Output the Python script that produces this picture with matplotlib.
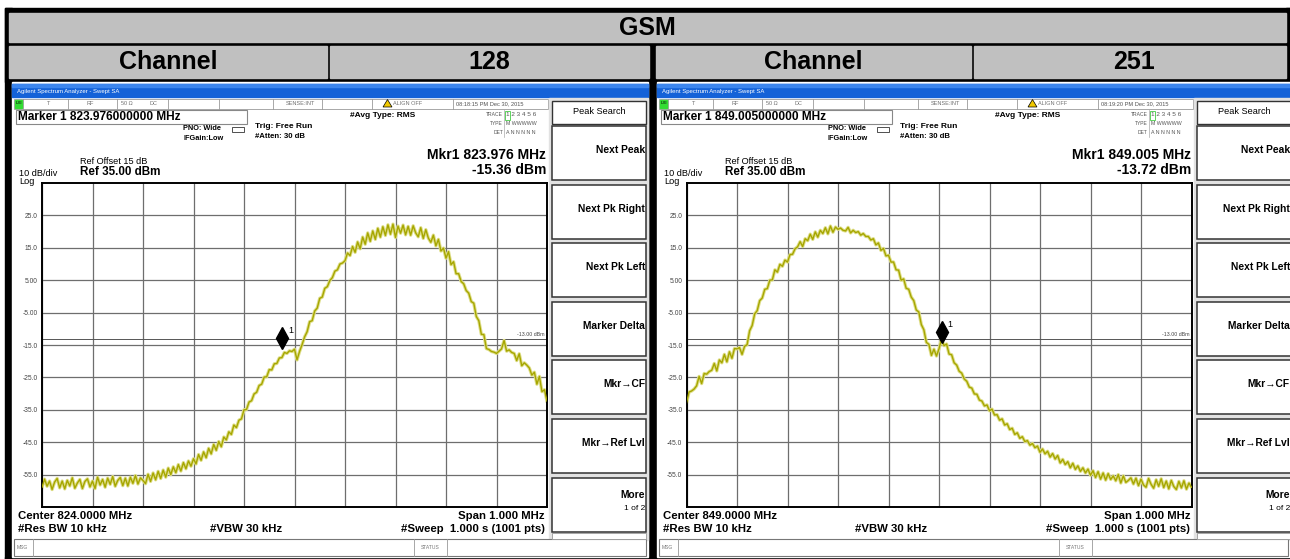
import numpy as np
import matplotlib.pyplot as plt
from matplotlib.patches import Rectangle, Polygon
from matplotlib import font_manager

plt.rcParams['font.family'] = ['Liberation Sans', 'DejaVu Sans']

W, H = 1290, 559

titulo = 'GSM'
canales = ['128', '251']
centros = [824.0, 849.0]          # MHz
span = 1.0                        # MHz
linea_display = -13.0             # dBm
marcador_freq = [823.976, 849.005]
marcador_nivel = [-15.36, -13.72]
horas = ['08:18:15 PM', '08:19:20 PM']
yticks = [25, 15, 5, -5, -15, -25, -35, -45, -55]
ytick_labels = ['25.0', '15.0', '5.00', '-5.00', '-15.0', '-25.0', '-35.0', '-45.0', '-55.0']
teclas = ['Next Peak', 'Next Pk Right', 'Next Pk Left', 'Marker Delta',
          'Mkr\u2192CF', 'Mkr\u2192Ref Lvl']

# traza canal 128, 201 puntos (cada 5 kHz)
traza_128 = [
    -58.9, -56.4, -58.6, -57.0, -59.6, -57.3, -56.2, -59.1, -57.0, -59.4,
    -56.8, -58.5, -56.0, -59.2, -57.6, -56.5, -59.3, -57.1, -56.3, -58.8,
    -57.0, -59.3, -55.8, -58.2, -56.5, -58.9, -56.1, -58.0, -55.6, -58.6,
    -56.8, -55.9, -58.4, -56.1, -58.5, -55.8, -57.7, -55.3, -57.9, -56.0,
    -56.8, -57.8, -54.9, -57.1, -54.5, -56.6, -54.0, -56.2, -53.6, -55.8,
    -53.0, -55.0, -52.6, -54.4, -51.9, -53.9, -51.3, -53.2, -50.8, -52.4,
    -50.1, -51.7, -48.8, -50.6, -48.0, -49.8, -46.9, -48.6, -45.7, -47.5,
    -44.8, -46.4, -43.4, -44.3, -41.8, -42.6, -39.7, -40.5, -38.2, -37.8,
    -35.0, -34.9, -32.6, -32.2, -30.1, -29.6, -27.5, -27.1, -24.9, -24.8,
    -22.6, -22.7, -20.8, -20.7, -19.0, -18.9, -17.3, -17.6, -16.8, -17.0,
    -16.3, -19.6, -17.0, -14.9, -12.5, -10.9, -7.8, -7.5, -4.5, -3.6,
    -0.6, -0.2, 2.5, 3.0, 4.9, 5.8, 7.8, 8.2, 10.0, 10.3,
    11.0, 13.4, 12.6, 15.4, 13.6, 16.8, 14.7, 18.3, 16.1, 19.6,
    17.0, 20.2, 17.6, 21.0, 18.3, 21.5, 18.8, 22.1, 19.2, 22.3,
    18.2, 21.7, 19.5, 22.0, 19.0, 21.6, 18.9, 21.8, 19.6, 18.4,
    21.2, 17.9, 20.6, 18.0, 16.7, 18.9, 15.6, 17.6, 14.0, 14.9,
    11.8, 13.8, 9.8, 10.7, 7.0, 7.0, 4.6, 3.9, 1.8, 1.0,
    -1.6, -2.1, -6.2, -7.5, -11.7, -11.8, -16.1, -16.4, -17.0, -17.2,
    -17.6, -16.9, -16.2, -13.6, -16.9, -16.5, -17.3, -17.6, -19.8, -17.7,
    -21.4, -20.5, -21.2, -22.1, -24.3, -23.4, -27.1, -24.7, -29.4, -28.8,
    -32.3]

# traza canal 251
traza_251 = [
    -32.9, -29.5, -29.2, -28.6, -27.6, -24.7, -26.9, -23.8, -24.0, -23.2,
    -22.8, -20.7, -23.0, -19.6, -20.5, -17.9, -20.2, -17.1, -19.1, -16.1,
    -16.2, -15.8, -17.9, -15.4, -14.9, -10.6, -9.0, -5.4, -4.4, -1.3,
    -0.5, 2.2, 2.4, 5.0, 5.1, 8.2, 7.5, 9.9, 9.3, 11.2,
    10.6, 12.9, 13.0, 14.7, 15.3, 16.9, 15.4, 17.8, 17.2, 19.2,
    17.6, 19.9, 18.3, 20.4, 19.4, 21.2, 19.3, 21.7, 19.8, 21.4,
    20.7, 21.1, 20.4, 20.2, 21.3, 19.6, 20.4, 19.7, 20.0, 18.9,
    19.4, 18.5, 18.5, 17.4, 17.8, 15.9, 16.5, 14.2, 14.8, 12.5,
    12.7, 10.6, 10.6, 8.2, 8.1, 5.0, 5.4, 2.5, 2.2, -0.2,
    -1.3, -4.2, -4.8, -8.7, -10.3, -14.2, -14.8, -18.2, -16.3, -18.4,
    -16.2, -13.1, -15.2, -14.7, -17.8, -18.0, -20.5, -21.2, -23.1, -23.7,
    -25.5, -26.2, -28.0, -28.3, -30.1, -30.2, -32.0, -32.3, -33.8, -33.5,
    -35.3, -34.8, -36.6, -36.5, -38.2, -37.8, -39.7, -39.3, -41.1, -40.7,
    -42.6, -42.1, -43.8, -43.3, -44.8, -44.5, -45.9, -45.4, -46.7, -46.2,
    -48.1, -47.1, -48.6, -47.8, -49.6, -48.5, -50.2, -49.1, -51.4, -50.3,
    -51.9, -51.0, -52.9, -51.5, -53.4, -52.3, -54.0, -52.9, -54.5, -53.3,
    -55.2, -53.8, -55.9, -54.1, -56.4, -54.5, -56.7, -54.7, -56.5, -55.4,
    -56.9, -55.0, -57.6, -55.4, -57.4, -56.8, -56.0, -57.9, -56.1, -58.4,
    -56.4, -58.2, -58.9, -56.2, -58.0, -59.2, -56.6, -58.6, -56.3, -59.0,
    -57.0, -59.4, -56.8, -58.7, -59.6, -57.1, -59.1, -56.9, -59.5, -57.6,
    -58.9]

trazas = [traza_128, traza_251]

# fuente condensada para la tabla si existe
nombres = {f.name for f in font_manager.fontManager.ttflist}
if 'Liberation Sans Narrow' in nombres:
    fuente_tabla = dict(family=['Liberation Sans Narrow', 'DejaVu Sans'], fontsize=21.5)
else:
    fuente_tabla = dict(family=['Liberation Sans', 'DejaVu Sans'], fontsize=18)


def caja(x0, y0, x1, y1):
    # pixel -> coordenadas de figura
    return [x0 / W, 1 - y1 / H, (x1 - x0) / W, (y1 - y0) / H]


fig = plt.figure(figsize=(W / 100, H / 100), dpi=100)
bg = fig.add_axes([0, 0, 1, 1])
bg.set_xlim(0, W)
bg.set_ylim(H, 0)
bg.axis('off')

# tabla
bg.add_patch(Rectangle((0, 0), W, H, color='white', zorder=0))
bg.add_patch(Rectangle((5, 8), W - 5, 74, color='black', zorder=1))
bg.add_patch(Rectangle((9, 13), 1277, 29, color='#c0c0c0', zorder=2))
bg.add_patch(Rectangle((9, 46), 318, 32, color='#c0c0c0', zorder=2))
bg.add_patch(Rectangle((330, 46), 319, 32, color='#c0c0c0', zorder=2))
bg.add_patch(Rectangle((656, 46), 315, 32, color='#c0c0c0', zorder=2))
bg.add_patch(Rectangle((974, 46), 312, 32, color='#c0c0c0', zorder=2))
bg.add_patch(Rectangle((5, 8), 7, H - 8, color='black', zorder=1))
bg.add_patch(Rectangle((648, 78), 10, H - 78, color='black', zorder=1))
bg.add_patch(Rectangle((W - 4, 8), 4, H - 8, color='black', zorder=1))
bg.add_patch(Rectangle((5, H - 2), W, 2, color='black', zorder=1))
bg.text(647, 28, titulo, fontweight='bold', ha='center', va='center', zorder=3, **fuente_tabla)
for k, dx in enumerate([0, 645]):
    bg.text(168 + dx, 62, 'Channel', fontweight='bold', ha='center', va='center', zorder=3,
            **fuente_tabla)
    bg.text(489 + dx, 62, canales[k], fontweight='bold', ha='center', va='center', zorder=3,
            **fuente_tabla)

for k, dx in enumerate([0, 645]):
    c = centros[k]
    # ventana
    bg.add_patch(Rectangle((12 + dx, 82), 636, 475, color='white', zorder=1.5))
    bg.add_patch(Rectangle((12 + dx, 84), 636, 13, color='#1462d8', zorder=2))
    bg.add_patch(Rectangle((12 + dx, 84), 636, 3, color='#3c86ee', zorder=2))
    bg.text(17 + dx, 91, 'Agilent Spectrum Analyzer - Swept SA', color='white', fontsize=4.3,
            va='center', zorder=3)
    # barra de estado
    bg.add_patch(Rectangle((14 + dx, 98.5), 534, 10, facecolor='white', edgecolor='#9a9a9a',
                           lw=0.6, zorder=2))
    for xs in [23, 68, 117, 168, 219, 273, 322, 372, 453]:
        bg.plot([xs + dx, xs + dx], [98.5, 108.5], color='#9a9a9a', lw=0.6, zorder=3)
    bg.add_patch(Rectangle((15 + dx, 99.5), 7, 8, color='#33dd33', zorder=3))
    bg.text(18.5 + dx, 103.5, 'LXI', fontsize=3.2, ha='center', va='center', zorder=4)
    for xt, t in [(49, 'T'), (90, 'RF'), (127, '50 \u03a9'), (153, 'DC'), (300, 'SENSE:INT')]:
        bg.text(xt + dx, 103.5, t, fontsize=4, color='#707070', ha='center', va='center', zorder=3)
    bg.add_patch(Polygon([[383 + dx, 107], [387.5 + dx, 99.5], [392 + dx, 107]], closed=True,
                         facecolor='#f0c800', edgecolor='black', lw=0.5, zorder=3))
    bg.text(393 + dx, 103.5, 'ALIGN OFF', fontsize=4, color='#707070', va='center', zorder=3)
    bg.text(456 + dx, 103.5, horas[k] + ' Dec 30, 2015', fontsize=4.1, color='#505050',
            va='center', zorder=3)
    # marcador
    bg.add_patch(Rectangle((16 + dx, 110), 231, 14, facecolor='white', edgecolor='#888888',
                           lw=0.8, zorder=2))
    bg.text(18 + dx, 117.5, 'Marker 1 %.9f MHz' % marcador_freq[k], fontsize=8.6,
            fontweight='bold', va='center', zorder=3)
    bg.text(183 + dx, 129, 'PNO: Wide', fontsize=5.3, fontweight='bold', va='center', zorder=3)
    bg.text(183 + dx, 139, 'IFGain:Low', fontsize=5.3, fontweight='bold', va='center', zorder=3)
    bg.add_patch(Rectangle((232 + dx, 126.5), 12, 5, facecolor='white', edgecolor='#333333',
                           lw=0.6, zorder=3))
    bg.text(255 + dx, 126.5, 'Trig: Free Run', fontsize=6, fontweight='bold', va='center', zorder=3)
    bg.text(255 + dx, 137, '#Atten: 30 dB', fontsize=5.6, fontweight='bold', va='center', zorder=3)
    bg.text(350 + dx, 115.5, '#Avg Type: RMS', fontsize=6, fontweight='bold', va='center', zorder=3)
    for yy, lab, val in [(115, 'TRACE', '1 2 3 4 5 6'), (123.5, 'TYPE', 'M WWWWW'),
                         (132.5, 'DET', 'A N N N N N')]:
        bg.text(503 + dx, yy, lab, fontsize=3.6, color='#555555', ha='right', va='center', zorder=3)
        bg.text(506 + dx, yy, val, fontsize=4.6 if lab == 'TRACE' else 3.8, color='#555555',
                va='center', zorder=3)
    bg.add_patch(Rectangle((505 + dx, 110.5), 5, 9, facecolor='none', edgecolor='#44cc44',
                           lw=0.6, zorder=3))
    bg.plot([504 + dx, 504 + dx], [110, 137], color='#aaaaaa', lw=0.5, zorder=3)
    bg.text(546 + dx, 155, 'Mkr1 %.3f MHz' % marcador_freq[k], fontsize=10, fontweight='bold',
            ha='right', va='center', zorder=3)
    bg.text(546 + dx, 169.5, '%.2f dBm' % marcador_nivel[k], fontsize=10, fontweight='bold',
            ha='right', va='center', zorder=3)
    bg.text(80 + dx, 161, 'Ref Offset 15 dB', fontsize=6.6, va='center', zorder=3)
    bg.text(80 + dx, 172, 'Ref 35.00 dBm', fontsize=8.4, fontweight='bold', va='center', zorder=3)
    bg.text(19 + dx, 173, '10 dB/div', fontsize=6.6, va='center', zorder=3)
    bg.text(19 + dx, 181, 'Log', fontsize=6.6, va='center', zorder=3)
    # teclas
    bg.add_patch(Rectangle((549 + dx, 98), 99 if k == 0 else 96, 442, color='#e2e2e2', zorder=2))
    bg.add_patch(Rectangle((552 + dx, 101), 94, 23, facecolor='white', edgecolor='#333333',
                           lw=1, zorder=3))
    bg.text(599 + dx, 112, 'Peak Search', fontsize=6.6, ha='center', va='center', zorder=4)
    for i, t in enumerate(teclas + ['More']):
        y0 = 126 + 58.6 * i
        bg.add_patch(Rectangle((552 + dx, y0), 94, 54, facecolor='white', edgecolor='#333333',
                               lw=1.1, zorder=3))
        yt = y0 + 24 if t != 'More' else y0 + 17
        bg.text(645 + dx, yt, t, fontsize=7.4, fontweight='bold', ha='right', va='center', zorder=4)
    bg.text(645 + dx, 509, '1 of 2', fontsize=6, ha='right', va='center', zorder=4)
    bg.add_patch(Rectangle((552 + dx, 533), 94, 6, facecolor='white', edgecolor='#999999',
                           lw=0.6, zorder=3))
    # pie
    bg.text(18 + dx, 516, 'Center %.4f MHz' % c, fontsize=8.2, fontweight='bold', va='center', zorder=3)
    bg.text(18 + dx, 529, '#Res BW 10 kHz', fontsize=8.2, fontweight='bold', va='center', zorder=3)
    bg.text(210 + dx, 529, '#VBW 30 kHz', fontsize=8.2, fontweight='bold', va='center', zorder=3)
    bg.text(545 + dx, 516, 'Span %.3f MHz' % span, fontsize=8.2, fontweight='bold', ha='right',
            va='center', zorder=3)
    bg.text(545 + dx, 529, '#Sweep  1.000 s (1001 pts)', fontsize=8.2, fontweight='bold',
            ha='right', va='center', zorder=3)
    bg.add_patch(Rectangle((14 + dx, 539), 632 if k == 0 else 629, 17, facecolor='white',
                           edgecolor='#777777', lw=0.8, zorder=2))
    bg.plot([33 + dx, 33 + dx], [539, 556], color='#999999', lw=0.6, zorder=3)
    bg.plot([414 + dx, 414 + dx], [539, 556], color='#999999', lw=0.6, zorder=3)
    bg.plot([447 + dx, 447 + dx], [539, 556], color='#999999', lw=0.6, zorder=3)
    bg.text(17 + dx, 547.5, 'MSG', fontsize=3.6, color='#777777', va='center', zorder=3)
    bg.text(430.5 + dx, 547.5, 'STATUS', fontsize=3.6, color='#777777', ha='center',
            va='center', zorder=3)

    # grafico de la traza
    x0 = 42 if k == 0 else 686.5
    ax = fig.add_axes(caja(x0, 183, x0 + 505, 507))
    ax.set_facecolor('white')
    f = np.linspace(c - span / 2, c + span / 2, len(trazas[k]))
    ax.plot(f, trazas[k], color='#dede88', lw=2.4, zorder=2)
    ax.plot(f, trazas[k], color='#a6a600', lw=1.0, zorder=3)
    ax.axhline(linea_display, color='#555555', lw=0.7, zorder=1)
    ax.text(c + span / 2 - 0.004, linea_display + 0.6, '-13.00 dBm', fontsize=3.8,
            color='#444444', ha='right', va='bottom', zorder=4)
    ax.plot(marcador_freq[k], marcador_nivel[k] + 2.6, marker='d', markersize=11, color='black',
            zorder=5)
    ax.text(marcador_freq[k] + 0.012, marcador_nivel[k] + 4.2, '1', fontsize=6.5, zorder=5)
    ax.set_xlim(c - span / 2, c + span / 2)
    ax.set_ylim(-65, 35)
    ax.set_xticks(np.linspace(c - span / 2, c + span / 2, 11))
    ax.set_xticklabels([])
    ax.set_yticks(yticks)
    ax.set_yticklabels(ytick_labels)
    ax.tick_params(axis='both', length=0)
    ax.tick_params(axis='y', labelsize=4.8, pad=3, labelcolor='#444444')
    ax.grid(True, color='#6e6e6e', lw=0.9)
    ax.set_axisbelow(True)
    for s in ax.spines.values():
        s.set_color('black')
        s.set_linewidth(1.4)

fig.savefig('out.png', dpi=100)
